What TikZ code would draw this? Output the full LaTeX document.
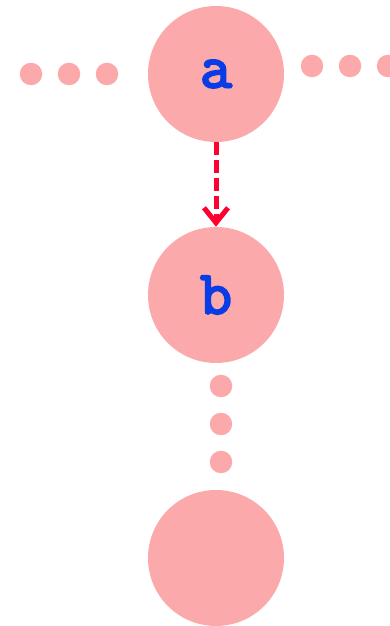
\documentclass[tikz,border=0pt]{standalone}
\usepackage{fontspec}
\newfontfamily\codefont[FakeBold=3.5]{Latin Modern Mono}
\usetikzlibrary{arrows.meta}
\definecolor{nodepink}{HTML}{FCA9AB}
\definecolor{labelblue}{HTML}{0A3CE6}
\definecolor{edgered}{HTML}{FF0030}
\begin{document}
\begin{tikzpicture}[x=1pt,y=1pt,
  bignode/.style={circle,fill=nodepink,minimum size=136pt,inner sep=0pt,
    font=\codefont\bfseries\fontsize{62}{62}\selectfont,text=labelblue},
  dotnode/.style={circle,fill=nodepink,minimum size=22.5pt,inner sep=0pt},
  flowarrow/.style={draw=edgered,line width=5pt,dash pattern=on 13pt off 5pt,
    -{Straight Barb[length=15pt,width=24pt]}}]
\useasboundingbox (0,0) rectangle (389,626);
\node[bignode] (a) at (216,552) {a};
\node[bignode] (b) at (216,331) {b};
\node[bignode] (c) at (216,68) {};
\node[dotnode] (l1) at (31,552) {};
\node[dotnode] (l2) at (69,552) {};
\node[dotnode] (l3) at (107,552) {};
\node[dotnode] (r1) at (312,560) {};
\node[dotnode] (r2) at (350,560) {};
\node[dotnode] (r3) at (388,560) {};
\node[dotnode] (v1) at (221,240) {};
\node[dotnode] (v2) at (221,202) {};
\node[dotnode] (v3) at (221,164) {};
\draw[flowarrow] (a) -- (b);
\end{tikzpicture}
\end{document}
